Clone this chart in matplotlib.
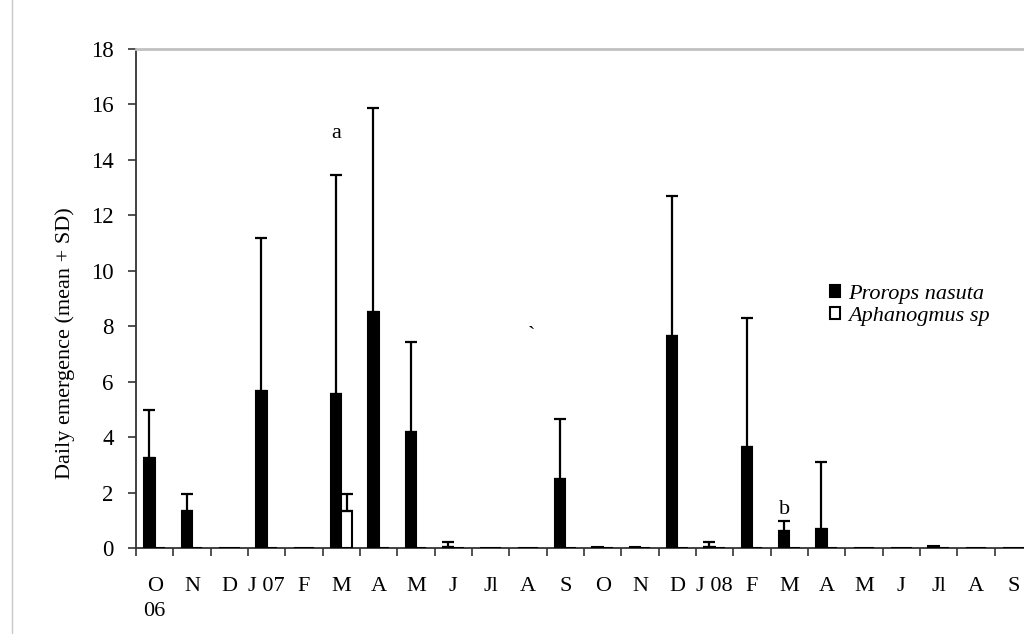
import matplotlib
matplotlib.use('Agg')
import matplotlib.pyplot as plt
from matplotlib.patches import Patch
from matplotlib.lines import Line2D
import numpy as np

# Monthly sampling periods, Oct 2006 - Sep 2008
MONTHS = ['O\n06', 'N', 'D', 'J 07', 'F', 'M', 'A', 'M', 'J', 'Jl', 'A', 'S',
          'O', 'N', 'D', 'J 08', 'F', 'M', 'A', 'M', 'J', 'Jl', 'A', 'S']

# Prorops nasuta: daily emergence mean and SD
PRO_MEAN = [3.25, 1.35, 0, 5.65, 0, 5.55, 8.5, 4.2, 0.04, 0, 0, 2.5,
            0.05, 0.05, 7.65, 0.04, 3.65, 0.6, 0.7, 0, 0, 0.08, 0, 0]
PRO_SD = [1.72, 0.59, 0, 5.53, 0, 7.91, 7.37, 3.22, 0.19, 0, 0, 2.15,
          0, 0, 5.05, 0.19, 4.65, 0.38, 2.4, 0, 0, 0, 0, 0]

# Aphanogmus sp: daily emergence mean and SD
APH_MEAN = [0, 0, 0, 0, 0, 1.35, 0, 0, 0, 0, 0, 0,
            0, 0, 0, 0, 0, 0, 0, 0, 0, 0, 0, 0]
APH_SD = [0, 0, 0, 0, 0, 0.59, 0, 0, 0, 0, 0, 0,
          0, 0, 0, 0, 0, 0, 0, 0, 0, 0, 0, 0]

# Significance letters: month index, letter, height of the letter's centre
SIG_INDEX = [5, 17]
SIG_LETTER = ['a', 'b']
SIG_Y = [14.95, 1.4]

BAR_WIDTH = 0.28
FONT_SIZE = 16
EDGE_LW = 1.5

plt.rcParams['font.family'] = ['Liberation Serif', 'DejaVu Serif']
plt.rcParams['font.size'] = FONT_SIZE


def draw_series(ax, x, mean, sd, face):
    ax.bar(x, mean, width=BAR_WIDTH, color=face, edgecolor='black',
           linewidth=EDGE_LW, zorder=3)
    mean = np.asarray(mean, dtype=float)
    sd = np.asarray(sd, dtype=float)
    has_err = sd > 0
    ax.errorbar(x[has_err], mean[has_err],
                yerr=[np.zeros(has_err.sum()), sd[has_err]],
                fmt='none', ecolor='black', elinewidth=1.6,
                capsize=4, capthick=1.6, zorder=4)


def main():
    fig = plt.figure(figsize=(10.24, 6.34), dpi=100)
    ax = fig.add_axes([136 / 1024, 86 / 634, 896 / 1024, 499 / 634])

    x = np.arange(len(MONTHS))
    draw_series(ax, x - BAR_WIDTH / 2, PRO_MEAN, PRO_SD, 'black')
    draw_series(ax, x + BAR_WIDTH / 2, APH_MEAN, APH_SD, 'white')

    for idx, letter, y in zip(SIG_INDEX, SIG_LETTER, SIG_Y):
        ax.text(idx - BAR_WIDTH / 2, y, letter, ha='center',
                va='center', fontsize=FONT_SIZE)

    # stray mark left on the original figure
    ax.text(10.1, 7.3, '`', ha='center', va='bottom', fontsize=FONT_SIZE)

    ax.set_xlim(-0.5, len(MONTHS) - 0.5)
    ax.set_ylim(0, 18)
    ax.set_yticks(np.arange(0, 19, 2))

    # ticks sit between months, labels under the month centres
    ax.set_xticks(np.arange(-0.5, len(MONTHS), 1.0))
    ax.set_xticklabels([])
    ax.set_xticks(x, minor=True)
    ax.set_xticklabels(MONTHS, minor=True)
    for lbl in ax.get_xticklabels(minor=True):
        lbl.set_linespacing(1.45)
    ax.tick_params(axis='x', which='major', direction='out', length=6,
                   width=1.2, color='#333333')
    ax.tick_params(axis='x', which='minor', length=0, pad=21,
                   labelsize=FONT_SIZE)
    ax.tick_params(axis='y', direction='out', length=6, width=1.2,
                   color='#333333', pad=10, labelsize=FONT_SIZE + 0.5)

    ax.set_ylabel('Daily emergence (mean + SD)', fontsize=FONT_SIZE)
    ax.yaxis.set_label_coords(-0.068, 0.41)

    for side in ['left', 'bottom']:
        ax.spines[side].set_color('#333333')
        ax.spines[side].set_linewidth(1.3)
    ax.spines['top'].set_color('#c0c0c0')
    ax.spines['top'].set_linewidth(2.0)
    ax.spines['right'].set_visible(False)

    handles = [Patch(facecolor='black', edgecolor='black', linewidth=EDGE_LW),
               Patch(facecolor='white', edgecolor='black', linewidth=EDGE_LW)]
    ax.legend(handles, ['Prorops nasuta', 'Aphanogmus sp'],
              loc='upper left', bbox_to_anchor=(0.765, 0.545), frameon=False,
              handlelength=0.45, handleheight=0.45, handletextpad=0.35,
              labelspacing=0.15, borderaxespad=0,
              prop={'style': 'italic', 'size': FONT_SIZE})

    # thin frame line on the left edge of the page
    fig.add_artist(Line2D([12 / 1024, 12 / 1024], [0, 1], color='#c8c8c8',
                          linewidth=1.0))

    fig.savefig('out.png', dpi=100, facecolor='white')
    plt.close(fig)


if __name__ == '__main__':
    main()
